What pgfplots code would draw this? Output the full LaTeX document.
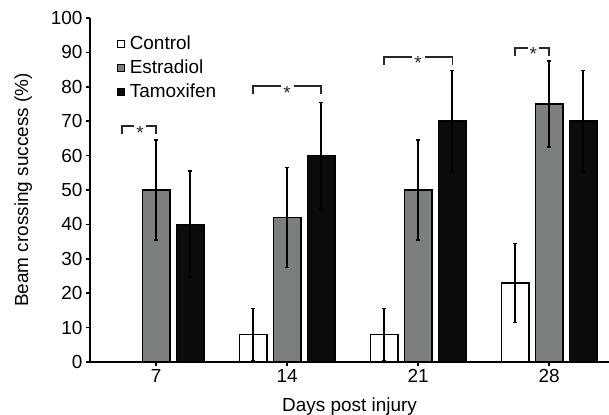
\documentclass[border=0pt]{standalone}
\usepackage{fontspec}
\setmainfont{Liberation Sans}
\usepackage{pgfplots}
\pgfplotsset{compat=1.18}

\definecolor{estr}{RGB}{123,127,128}
\definecolor{tamo}{RGB}{10,12,11}
\definecolor{brk}{RGB}{40,40,40}

\newcommand{\bigfont}{\fontsize{19}{22}\selectfont}

\begin{document}
\begin{tikzpicture}
\begin{axis}[
    scale only axis,
    width=519bp, height=344bp,
    xmin=3.47, xmax=31.2,
    ymin=0, ymax=100,
    axis x line*=bottom, axis y line*=left,
    axis line style={line width=1.8bp, -},
    xtick={7,14,21,28},
    ytick={0,10,...,100},
    tick style={line width=1.5bp, black},
    tick align=outside,
    major tick length=4bp,
    /pgf/number format/assume math mode=true,
    tick label style={font=\bigfont},
    label style={font=\bigfont},
    xlabel={Days post injury},
    ylabel={Beam crossing success (\%)},
    xlabel style={yshift=-8bp},
    ylabel style={yshift=12bp},
    ybar, bar width=27.5bp,
    every axis plot/.append style={line width=1.5bp, draw=black},
    error bars/error bar style={line width=1.5bp, black},
    error bars/error mark=-,
    error bars/error mark options={rotate=90, line width=1.5bp, mark size=2.2bp, black},
    legend style={draw=none, fill=none, font=\bigfont,
        at={(rel axis cs:0.052,0.952)}, anchor=north west,
        row sep=7bp, inner sep=0pt, nodes={inner ysep=1bp, inner xsep=5bp}},
    legend cell align=left,
    legend image code/.code={\draw[#1,/tikz/.cd,line width=0.6bp] (0bp,-3.5bp) rectangle (7bp,3.5bp);},
]
\addplot[fill=white, bar shift=-34bp, error bars/.cd, y dir=both, y explicit]
  coordinates {(14,8) +- (0,7.5) (21,8) +- (0,7.5) (28,23) +- (0,11.5)};
\addlegendentry{Control}
\addplot[fill=estr, bar shift=0bp, error bars/.cd, y dir=both, y explicit]
  coordinates {(7,50) +- (0,14.5) (14,42) +- (0,14.5) (21,50) +- (0,14.5) (28,75) +- (0,12.5)};
\addlegendentry{Estradiol}
\addplot[fill=tamo, bar shift=34bp, error bars/.cd, y dir=both, y explicit]
  coordinates {(7,40) +- (0,15.5) (14,60) +- (0,15.5) (21,70) +- (0,14.7) (28,70) +- (0,14.7)};
\addlegendentry{Tamoxifen}

% significance brackets
\addplot[sharp plot, brk, line width=1.3bp, forget plot] coordinates {(5.18,66.3) (5.18,68.6) (5.83,68.6)};
\addplot[sharp plot, brk, line width=1.3bp, forget plot] coordinates {(6.47,68.6) (7.0,68.6) (7.0,66.3)};
\addplot[sharp plot, brk, line width=1.3bp, forget plot] coordinates {(12.18,77.9) (12.18,80.2) (13.68,80.2)};
\addplot[sharp plot, brk, line width=1.3bp, forget plot] coordinates {(14.35,80.2) (15.82,80.2) (15.82,77.9)};
\addplot[sharp plot, brk, line width=1.3bp, forget plot] coordinates {(19.18,86.4) (19.18,88.7) (20.7,88.7)};
\addplot[sharp plot, brk, line width=1.3bp, forget plot] coordinates {(21.35,88.7) (22.82,88.7) (22.82,86.4)};
\addplot[sharp plot, brk, line width=1.3bp, forget plot] coordinates {(26.18,89.0) (26.18,91.3) (26.85,91.3)};
\addplot[sharp plot, brk, line width=1.3bp, forget plot] coordinates {(27.45,91.3) (28.0,91.3) (28.0,89.0)};
\node[font=\bigfont, anchor=base, yshift=-13bp, brk] at (axis cs:6.15,68.6) {*};
\node[font=\bigfont, anchor=base, yshift=-13bp, brk] at (axis cs:14.0,80.2) {*};
\node[font=\bigfont, anchor=base, yshift=-13bp, brk] at (axis cs:21.0,88.7) {*};
\node[font=\bigfont, anchor=base, yshift=-13bp, brk] at (axis cs:27.15,91.3) {*};
\end{axis}
\pgfresetboundingbox
\path (current axis.south west) ++(-90bp,-53bp) rectangle ++(609bp,415bp);
\end{tikzpicture}
\end{document}
